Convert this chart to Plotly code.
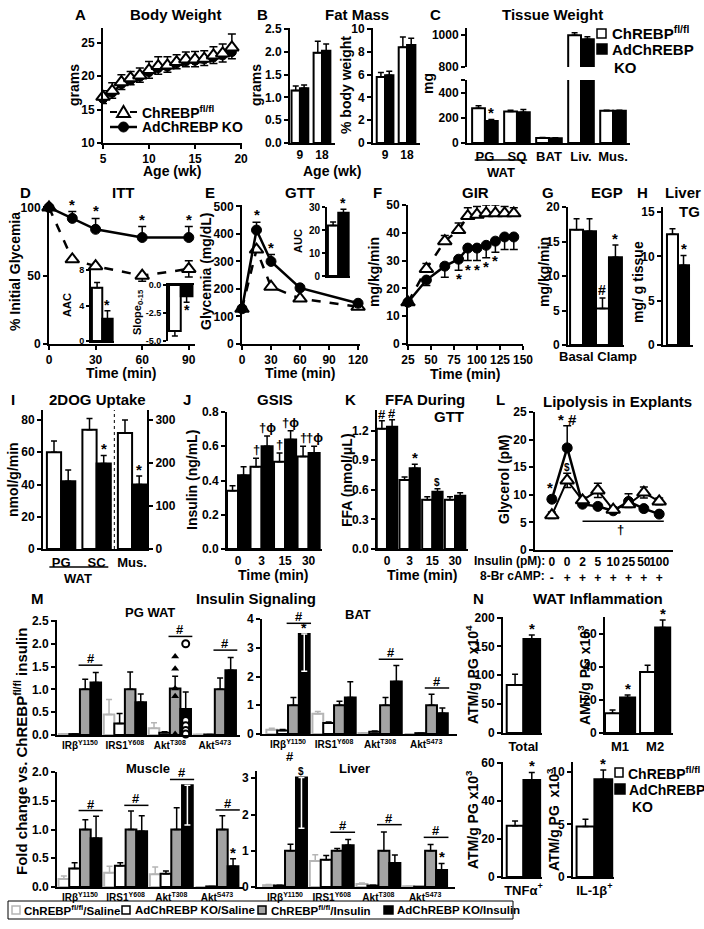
import plotly.graph_objects as go

W, H = 704, 929
FONT = "Liberation Sans, Arial, Helvetica, sans-serif"

# ======================= DATA =======================
# A  Body weight
bw_weeks = [5, 6, 7, 8, 9, 10, 11, 12, 13, 14, 15, 16, 17, 18, 19]
bw_wt = [16.9, 17.8, 19.1, 19.7, 20.1, 20.9, 21.5, 21.6, 22.1, 22.5, 22.5, 22.6, 23.1, 23.4, 24.3]
bw_wt_err = [0.9, 1.2, 1.1, 1.0, 1.1, 1.3, 1.4, 1.3, 1.1, 1.1, 1.2, 1.2, 1.3, 1.4, 2.0]
bw_ko = [16.6, 17.5, 18.8, 19.4, 19.9, 20.6, 21.2, 21.4, 21.9, 22.2, 22.3, 22.5, 22.8, 23.1, 23.6]
bw_ko_err = [0.7, 0.8, 0.8, 0.7, 0.8, 0.9, 0.9, 0.8, 0.8, 0.8, 0.9, 0.9, 0.9, 1.0, 1.0]

# B  Fat mass
fat_ages = ["9", "18"]
fat_g_wt = [1.15, 1.98]
fat_g_wt_err = [0.10, 0.25]
fat_g_ko = [1.20, 2.02]
fat_g_ko_err = [0.07, 0.15]
fat_pct_wt = [5.8, 8.4]
fat_pct_wt_err = [0.4, 0.9]
fat_pct_ko = [5.95, 8.6]
fat_pct_ko_err = [0.35, 0.6]

# C  Tissue weight
tissues = ["PG", "SQ", "BAT", "Liv.", "Mus."]
tw_wt = [275, 250, 40, 1000, 255]
tw_wt_err = [20, 10, 3, 15, 5]
tw_ko = [175, 245, 38, 975, 255]
tw_ko_err = [12, 20, 3, 15, 5]

# D  ITT
itt_t = [0, 15, 30, 60, 90]
itt_wt = [100, 62, 57, 50, 55]
itt_wt_up = [0, 0, 0, 0, 6]
itt_wt_dn = [0, 0, 0, 4, 6]
itt_ko = [100, 92, 84, 78, 78]
itt_ko_up = [0, 5, 8, 8, 8]
aac_wt, aac_wt_err = 6.0, 0.6
aac_ko, aac_ko_err = 2.5, 0.9
slope_wt, slope_wt_err = -4.1, 0.45
slope_ko, slope_ko_err = -1.0, 0.55

# E  GTT
gtt_t = [0, 15, 30, 60, 120]
gtt_wt = [128, 343, 208, 165, 135]
gtt_ko = [128, 414, 300, 204, 148]
gtt_ko_up = [0, 28, 25, 0, 0]
auc_wt, auc_wt_err = 22.0, 1.5
auc_ko, auc_ko_err = 27.5, 1.5

# F  GIR
gir_t = [25, 45, 65, 80, 90, 100, 110, 120, 130, 140]
gir_wt = [15, 27, 37, 41, 46, 46.5, 47, 47, 47, 47]
gir_wt_up = [0, 2, 2, 2.5, 3, 3, 3, 3, 2.5, 2]
gir_ko = [15, 23, 28, 30.5, 34.5, 34.5, 35.5, 37, 38.5, 38.5]
gir_ko_dn = [0, 2, 4, 4, 4.5, 4.5, 4.5, 4, 4.5, 4.5]

# G  EGP
egp_cond = ["Basal", "Clamp"]
egp_wt = [16.7, 5.3]
egp_wt_err = [1.6, 1.5]
egp_ko = [16.5, 12.7]
egp_ko_err = [1.8, 1.8]

# H  Liver TG
ltg_wt, ltg_wt_err = 12.5, 0.6
ltg_ko, ltg_ko_err = 9.0, 1.1

# I  2DOG uptake
dog_cats = ["PG", "SC", "Mus."]
dog_wat_wt = [60, 74]
dog_wat_wt_err = [7, 7]
dog_wat_ko = [42, 53]
dog_wat_ko_err = [7, 5]
dog_mus_wt, dog_mus_wt_err = 270, 30
dog_mus_ko, dog_mus_ko_err = 150, 20

# J  GSIS
gsis_t = ["0", "3", "15", "30"]
gsis_wt = [0.34, 0.48, 0.51, 0.54]
gsis_wt_err = [0.03, 0.05, 0.05, 0.06]
gsis_ko = [0.43, 0.60, 0.64, 0.56]
gsis_ko_err = [0.05, 0.06, 0.05, 0.04]

# K  FFA during GTT
ffa_t = ["0", "3", "15", "30"]
ffa_wt = [1.22, 0.70, 0.50, 0.50]
ffa_wt_err = [0.08, 0.03, 0.03, 0.03]
ffa_ko = [1.24, 0.82, 0.58, 0.54]
ffa_ko_err = [0.07, 0.04, 0.03, 0.03]

# L  Lipolysis in explants
lip_insulin = ["0", "0", "2", "5", "10", "25", "50", "100"]
lip_camp = ["-", "+", "+", "+", "+", "+", "+", "+"]
lip_ko = [9.2, 18.5, 8.3, 7.9, 7.1, 8.8, 7.5, 6.5]
lip_ko_err = [0.6, 4.0, 0.5, 0.5, 0.4, 1.4, 0.4, 0.4]
lip_wt = [6.3, 12.6, 9.0, 10.8, 7.3, 8.3, 10.4, 8.8]
lip_wt_err = [0.6, 1.3, 0.6, 1.3, 0.5, 0.6, 1.0, 0.6]

# M  Insulin signaling
sig_labels = ["IRβ<sup>Y1150</sup>", "IRS1<sup>Y608</sup>", "Akt<sup>T308</sup>", "Akt<sup>S473</sup>"]
pg_sal_wt = [0.02, 0.45, 0.15, 0.01]
pg_sal_wt_err = [0.01, 0.33, 0.12, 0.0]
pg_sal_ko = [0.02, 0.25, 0.05, 0.01]
pg_sal_ko_err = [0.0, 0.22, 0.02, 0.0]
pg_ins_wt = [1.0, 1.0, 1.02, 1.0]
pg_ins_wt_err = [0.22, 0.38, 0.27, 0.25]
pg_ins_ko = [1.15, 0.72, 0.57, 1.42]
pg_ins_ko_up = [0.22, 0.18, 0.37, 0.28]
pg_ins_ko_dn = [0, 0, 0, 0]
pg_akt_pts_wt = [1.72, 1.45, 1.02, 0.85, 0.02]
pg_akt_pts_ko = [2.0, 0.32, 0.2, 0.1, 0.02]

bat_sal_wt = [0.15, 0.70, 0.03, 0.0]
bat_sal_wt_err = [0.05, 0.08, 0.01, 0.0]
bat_sal_ko = [0.12, 0.38, 0.08, 0.03]
bat_sal_ko_err = [0.04, 0.04, 0.02, 0.0]
bat_ins_wt = [1.0, 1.0, 1.0, 1.0]
bat_ins_wt_err = [0.27, 0.14, 0.27, 0.38]
bat_ins_ko = [3.48, 1.27, 1.83, 0.72]
bat_ins_ko_up = [0, 0.55, 0.55, 0.18]
bat_ins_ko_dn = [1.30, 0, 0, 0]

mus_sal_wt = [0.14, 0.25, 0.22, 0.0]
mus_sal_wt_err = [0.05, 0.11, 0.13, 0.0]
mus_sal_ko = [0.32, 0.37, 0.23, 0.01]
mus_sal_ko_err = [0.10, 0.05, 0.05, 0.0]
mus_ins_wt = [1.0, 1.0, 1.0, 1.0]
mus_ins_wt_err = [0.17, 0.32, 0.38, 0.24]
mus_ins_ko = [0.85, 0.97, 1.77, 0.36]
mus_ins_ko_up = [0.38, 0.27, 0, 0.13]
mus_ins_ko_dn = [0, 0, 0.69, 0]

liv_sal_wt = [0.05, 0.72, 0.08, 0.02]
liv_sal_wt_err = [0.02, 0.17, 0.03, 0.0]
liv_sal_ko = [0.04, 0.75, 0.04, 0.01]
liv_sal_ko_err = [0.01, 0.12, 0.01, 0.0]
liv_ins_wt = [1.0, 1.0, 1.0, 1.0]
liv_ins_wt_err = [0.18, 0.06, 0.52, 0.17]
liv_ins_ko = [3.02, 1.15, 0.66, 0.47]
liv_ins_ko_up = [0, 0.16, 0.22, 0.18]
liv_ins_ko_dn = [1.40, 0, 0, 0]

# N  WAT inflammation
atm_total_wt, atm_total_wt_err = 83, 19
atm_total_ko, atm_total_ko_err = 163, 7
m_cats = ["M1", "M2"]
m_wt = [12, 37]
m_wt_err = [2, 4]
m_ko = [21.5, 64]
m_ko_err = [1.5, 4.5]
tnf_wt, tnf_wt_err = 27, 2.5
tnf_ko, tnf_ko_err = 51, 4
il1_wt, il1_wt_err = 4.8, 0.7
il1_ko, il1_ko_err = 9.3, 0.9

WT_NAME = "ChREBP<sup>fl/fl</sup>"
KO_NAME = "AdChREBP KO"
M_LEGEND = [WT_NAME + "/Saline", KO_NAME + "/Saline", WT_NAME + "/Insulin", KO_NAME + "/Insulin"]

# ======================= HELPERS =======================
fig = go.Figure()
lay = {}
annotations = []
shapes = []
_n = [0]


def tf(size):
    return dict(family=FONT, size=size, color="black", weight="bold")


AXBASE = dict(showline=True, linecolor="black", linewidth=2, ticks="outside", ticklen=4,
              tickwidth=2, tickcolor="black", showgrid=False, zeroline=False,
              tickfont=tf(12), fixedrange=True, tickangle=0, automargin=False)


def px(x):
    return x / W


def py(y):
    return 1 - y / H


def axes(x0, x1, ytop, ybot, xr, yr, xo=None, yo=None):
    _n[0] += 1
    s = "" if _n[0] == 1 else str(_n[0])
    xa = dict(AXBASE)
    xa.update(domain=[px(x0), px(x1)], range=xr, anchor="y" + s)
    ya = dict(AXBASE)
    ya.update(domain=[py(ybot), py(ytop)], range=yr, anchor="x" + s)
    if xo:
        xa.update(xo)
    if yo:
        ya.update(yo)
    lay["xaxis" + s] = xa
    lay["yaxis" + s] = ya
    return "x" + s, "y" + s


def cat(labels, size=12):
    return dict(ticks="", tickvals=list(range(len(labels))), ticktext=labels, tickfont=tf(size))


def errs(up, down, n, color="black", width=3):
    up = list(up) if up is not None else [0] * n
    down = list(down) if down is not None else [0] * n
    return dict(type="data", symmetric=False, array=up, arrayminus=down, color=color,
                thickness=1.5, width=width)


def bars(xa, ya, vals, up=None, down=None, off=0.0, w=0.4, fill="white", edge="black",
         errc="black", lw=2, idx=None):
    n = len(vals)
    idx = list(range(n)) if idx is None else idx
    fig.add_trace(go.Bar(x=idx, y=vals, width=w, offset=off, xaxis=xa, yaxis=ya,
                         marker=dict(color=fill, line=dict(color=edge, width=lw)),
                         error_y=errs(up, down, n, errc), showlegend=False,
                         hoverinfo="skip"))


def series(xa, ya, x, y, up=None, down=None, kind="wt", dash="solid", size=None, lw=2.5):
    n = len(y)
    if kind == "wt":
        mk = dict(symbol="triangle-up", size=size or 12, color="white",
                  line=dict(color="black", width=2))
    else:
        mk = dict(symbol="circle", size=size or 10, color="black",
                  line=dict(color="black", width=1))
    fig.add_trace(go.Scatter(x=x, y=y, mode="lines+markers", xaxis=xa, yaxis=ya,
                             line=dict(color="black", width=lw, dash=dash), marker=mk,
                             error_y=errs(up, down, n, width=4), cliponaxis=False,
                             showlegend=False, hoverinfo="skip"))


def txt(x, y, s, size=14, angle=0, xanchor="center", yanchor="middle"):
    annotations.append(dict(x=px(x), y=py(y), xref="paper", yref="paper", text=s,
                            showarrow=False, textangle=angle, xanchor=xanchor,
                            yanchor=yanchor, font=tf(size)))


def mark(xa, ya, x, y, s, size=15, yanchor="bottom", xshift=0, yshift=0):
    annotations.append(dict(x=x, y=y, xref=xa, yref=ya, text=s, showarrow=False,
                            xanchor="center", yanchor=yanchor, xshift=xshift,
                            yshift=yshift, font=tf(size)))


def hline(xa, ya, xa0, xa1, yv, width=1.5, dash="solid"):
    shapes.append(dict(type="line", xref=xa, yref=ya, x0=xa0, x1=xa1, y0=yv, y1=yv,
                       line=dict(color="black", width=width, dash=dash)))


def pline(x0, y0, x1, y1, width=1.5, dash="solid"):
    shapes.append(dict(type="line", xref="paper", yref="paper", x0=px(x0), y0=py(y0),
                       x1=px(x1), y1=py(y1), line=dict(color="black", width=width, dash=dash)))


def swatch(x0, y0, x1, y1, fill, edge="black", lw=1.5):
    shapes.append(dict(type="rect", xref="paper", yref="paper", x0=px(x0), x1=px(x1),
                       y0=py(y1), y1=py(y0), fillcolor=fill, line=dict(color=edge, width=lw)))


# ======================= A: Body weight =======================
xa, ya = axes(103, 242, 28, 143, [5, 20.1], [10, 27.2],
              xo=dict(tickvals=[5, 10, 15, 20]), yo=dict(tickvals=[10, 15, 20, 25]))
series(xa, ya, bw_weeks, bw_ko, down=bw_ko_err, kind="ko", size=9)
series(xa, ya, bw_weeks, bw_wt, up=bw_wt_err, kind="wt", dash="dash", size=12)
txt(80, 15, "A", 15)
txt(175, 15, "Body Weight", 15)
txt(74, 85, "grams", 14, -90)
txt(172, 171, "Age (wk)", 14)
# legend (drawn)
pline(110, 112, 117, 112, 2)
pline(130, 112, 137, 112, 2)
shapes.append(dict(type="path", xref="paper", yref="paper",
                   path="M %f,%f L %f,%f L %f,%f Z" % (px(117), py(117), px(130), py(117),
                                                       px(123.5), py(106)),
                   fillcolor="white", line=dict(color="black", width=2)))
pline(110, 127, 137, 127, 2.5)
shapes.append(dict(type="circle", xref="paper", yref="paper", x0=px(118.5), x1=px(128.5),
                   y0=py(132), y1=py(122), fillcolor="black", line=dict(color="black", width=1)))
txt(140, 112, WT_NAME, 14, xanchor="left")
txt(140, 127, KO_NAME, 14, xanchor="left")

# ======================= B: Fat mass =======================
w = 0.38
xb, yb = axes(290, 335, 28, 143, [-0.45, 1.59], [0, 2.52], xo=cat(fat_ages),
              yo=dict(tickvals=[0, 0.5, 1, 1.5, 2, 2.5], tickformat=".1f"))
bars(xb, yb, fat_g_wt, fat_g_wt_err, off=-w, w=w)
bars(xb, yb, fat_g_ko, fat_g_ko_err, off=0, w=w, fill="black")
xb2, yb2 = axes(373, 420, 28, 143, [-0.55, 1.59], [0, 10.1], xo=cat(fat_ages),
                yo=dict(tickvals=[0, 2, 4, 6, 8, 10]))
bars(xb2, yb2, fat_pct_wt, fat_pct_wt_err, off=-w, w=w)
bars(xb2, yb2, fat_pct_ko, fat_pct_ko_err, off=0, w=w, fill="black")
txt(262, 15, "B", 15)
txt(357, 15, "Fat Mass", 15)
txt(256, 85, "grams", 14, -90)
txt(346, 85, "% body weight", 14, -90)
txt(332, 171, "Age (wk)", 14)

# ======================= C: Tissue weight (broken axis) =======================
w = 0.4
xr_c = [-0.56, 4.53]
xc, yc = axes(467, 630, 80, 143, xr_c, [0, 500], xo=cat(tissues, 13),
              yo=dict(tickvals=[0, 200, 400, 500], ticktext=["0", "200", "400", ""]))
bars(xc, yc, tw_wt, tw_wt_err, off=-w, w=w)
bars(xc, yc, tw_ko, tw_ko_err, off=0, w=w, fill="black")
xc2, yc2 = axes(467, 630, 28, 67, xr_c, [800, 1045],
                xo=dict(visible=False), yo=dict(tickvals=[800, 1000]))
bars(xc2, yc2, tw_wt, tw_wt_err, off=-w, w=w)
bars(xc2, yc2, tw_ko, tw_ko_err, off=0, w=w, fill="black")
mark(xc, yc, 0 + w / 2, tw_ko[0] + tw_ko_err[0], "*", yshift=-4)
shapes.append(dict(type="line", xref=xc, yref="paper", x0=-0.32, x1=1.32, y0=py(160),
                   y1=py(160), line=dict(color="black", width=1.5)))
txt(501, 172, "WAT", 13)
txt(435, 15, "C", 15)
txt(552, 15, "Tissue Weight", 15)
txt(428, 84, "mg", 14, -90)
swatch(597, 29, 606, 38, "white")
swatch(597, 44, 607, 54, "black")
txt(610, 33, WT_NAME, 15, xanchor="left")
txt(610, 50, "AdChREBP", 15, xanchor="left")
txt(612, 68, "KO", 15, xanchor="left")

# ======================= D: ITT =======================
xd, yd = axes(49, 195, 202, 344, [0, 94], [0, 104],
              xo=dict(tickvals=[0, 30, 60, 90]), yo=dict(tickvals=[0, 50, 100]))
series(xd, yd, itt_t, itt_wt, up=itt_wt_up, down=itt_wt_dn, kind="wt", dash="dash")
series(xd, yd, itt_t, itt_ko, up=itt_ko_up, kind="ko")
for t, v, e in zip(itt_t[1:], itt_ko[1:], itt_ko_up[1:]):
    mark(xd, yd, t, v + e, "*", yshift=-3)
w = 0.46
xi1, yi1 = axes(91, 114, 270, 341, [-0.5, 0.52], [0, 8],
                xo=dict(showticklabels=False, ticks=""),
                yo=dict(tickvals=[0, 4, 8], tickfont=tf(9), ticklen=3))
bars(xi1, yi1, [aac_wt], [aac_wt_err], off=-w, w=w, idx=[0])
bars(xi1, yi1, [aac_ko], [aac_ko_err], off=0, w=w, fill="black", idx=[0])
mark(xi1, yi1, w / 2, aac_ko + aac_ko_err, "*", 14, yshift=-4)
txt(67, 305, "AAC", 11, -90)
xi2, yi2 = axes(168, 194, 285, 341, [-0.5, 0.52], [-5, 0],
                xo=dict(showticklabels=False, ticks="", side="top"),
                yo=dict(tickvals=[0, -2.5, -5], ticktext=["0.0", "-2.5", "-5.0"],
                        tickfont=tf(9), ticklen=3))
bars(xi2, yi2, [slope_wt], down=[slope_wt_err], off=-w, w=w, idx=[0])
bars(xi2, yi2, [slope_ko], down=[slope_ko_err], off=0, w=w, fill="black", idx=[0])
mark(xi2, yi2, w / 2, slope_ko - slope_ko_err, "*", 14, yanchor="top", yshift=2)
txt(138, 312, "Slope<sub>0-15</sub>", 11, -90)
txt(25, 192, "D", 15)
txt(123, 192, "ITT", 15)
txt(15, 272, "% Initial Glycemia", 14, -90)
txt(121, 373, "Time (min)", 14)

# ======================= E: GTT =======================
xe, ye = axes(242, 360, 205, 344, [0, 122], [0, 505],
              xo=dict(tickvals=[0, 30, 60, 90, 120]),
              yo=dict(tickvals=[0, 100, 200, 300, 400, 500]))
series(xe, ye, gtt_t, gtt_wt, kind="wt", dash="dash")
series(xe, ye, gtt_t, gtt_ko, up=gtt_ko_up, kind="ko")
for i in (1, 2):
    mark(xe, ye, gtt_t[i], gtt_ko[i] + gtt_ko_up[i], "*", yshift=-3)
xe2, ye2 = axes(327, 350, 207, 276, [-0.5, 0.52], [0, 30],
                xo=dict(showticklabels=False, ticks=""),
                yo=dict(tickvals=[0, 10, 20, 30], tickfont=tf(10), ticklen=3))
bars(xe2, ye2, [auc_wt], [auc_wt_err], off=-w, w=w, idx=[0])
bars(xe2, ye2, [auc_ko], [auc_ko_err], off=0, w=w, fill="black", idx=[0])
mark(xe2, ye2, w / 2, auc_ko + auc_ko_err, "*", 14, yshift=-4)
txt(298, 241, "AUC", 11, -90)
txt(210, 192, "E", 15)
txt(300, 192, "GTT", 15)
txt(206, 272, "Glycemia (mg/dL)", 14, -90)
txt(300, 373, "Time (min)", 14)

# ======================= F: GIR =======================
xf, yf = axes(408, 523, 205, 344, [25, 150], [0, 50],
              xo=dict(tickvals=[25, 50, 75, 100, 125, 150]),
              yo=dict(tickvals=[0, 10, 20, 30, 40, 50]))
series(xf, yf, gir_t, gir_wt, up=gir_wt_up, kind="wt", dash="dash")
series(xf, yf, gir_t, gir_ko, down=gir_ko_dn, kind="ko")
for i in range(3, 8):
    mark(xf, yf, gir_t[i], gir_ko[i] - gir_ko_dn[i], "*", yanchor="top", yshift=2)
txt(377, 192, "F", 15)
txt(475, 192, "GIR", 15)
txt(374, 272, "mg/kg/min", 14, -90)
txt(465, 374, "Time (min)", 14)

# ======================= G: EGP =======================
w = 0.5
xg, yg = axes(568, 624, 207, 345, [-0.58, 1.58], [0, 20],
              xo=dict(showticklabels=False, ticks=""),
              yo=dict(tickvals=[0, 5, 10, 15, 20]))
bars(xg, yg, egp_wt, egp_wt_err, off=-w, w=w)
bars(xg, yg, egp_ko, egp_ko_err, off=0, w=w, fill="black")
mark(xg, yg, 1 - w / 2, egp_wt[1] + egp_wt_err[1], "#", 14, yshift=-2)
mark(xg, yg, 1 + w / 2, egp_ko[1] + egp_ko_err[1], "*", yshift=-4)
txt(598, 356, " ".join(egp_cond), 13)
txt(548, 192, "G", 15)
txt(607, 192, "EGP", 15)
txt(544, 272, "mg/kg/min", 14, -90)

# ======================= H: Liver TG =======================
xh, yh = axes(663, 693, 207, 345, [-0.68, 0.68], [0, 15.56],
              xo=dict(showticklabels=False, ticks=""),
              yo=dict(tickvals=[0, 5, 10, 15]))
bars(xh, yh, [ltg_wt], [ltg_wt_err], off=-w, w=w, idx=[0])
bars(xh, yh, [ltg_ko], [ltg_ko_err], off=0, w=w, fill="black", idx=[0])
mark(xh, yh, w / 2, ltg_ko + ltg_ko_err, "*", yshift=-4)
txt(642, 192, "H", 15)
txt(703, 192, "Liver", 15, xanchor="right")
txt(689, 212, "TG", 15)
txt(638, 282, "mg/ g tissue", 14, -90)

# ======================= I: 2DOG uptake =======================
w = 0.4
xI, yI = axes(43, 147, 410, 549, [-0.51, 2.42], [0, 86.2], xo=cat(dog_cats, 13),
              yo=dict(tickvals=[0, 20, 40, 60, 80]))
yI2 = "y" + str(_n[0] + 100)
ax2 = dict(AXBASE)
ax2.update(overlaying=yI, side="right", anchor=xI, range=[0, 323.2],
           tickvals=[0, 100, 200, 300])
lay["yaxis" + str(_n[0] + 100)] = ax2
bars(xI, yI, dog_wat_wt, dog_wat_wt_err, off=-w, w=w)
bars(xI, yI, dog_wat_ko, dog_wat_ko_err, off=0, w=w, fill="black")
bars(xI, yI2, [dog_mus_wt], [dog_mus_wt_err], off=-w, w=w, idx=[2])
bars(xI, yI2, [dog_mus_ko], [dog_mus_ko_err], off=0, w=w, fill="black", idx=[2])
mark(xI, yI, 1 + w / 2, dog_wat_ko[1] + dog_wat_ko_err[1], "*", yshift=-4)
mark(xI, yI2, 2 + w / 2, dog_mus_ko + dog_mus_ko_err, "*", yshift=-4)
shapes.append(dict(type="line", xref=xI, yref="paper", x0=1.5, x1=1.5, y0=py(549),
                   y1=py(410), line=dict(color="black", width=1, dash="dot")))
shapes.append(dict(type="line", xref=xI, yref="paper", x0=-0.33, x1=1.33, y0=py(567),
                   y1=py(567), line=dict(color="black", width=1.5)))
txt(78, 578, "WAT", 13)
txt(13, 400, "I", 15)
txt(97, 400, "2DOG Uptake", 15)
txt(13, 480, "nmol/g/min", 14, -90)

# ======================= J: GSIS =======================
w = 0.47
xj, yj = axes(227, 322, 412, 549, [-0.47, 3.57], [0, 0.8], xo=cat(gsis_t),
              yo=dict(tickvals=[0, 0.2, 0.4, 0.6, 0.8], tickformat=".1f"))
bars(xj, yj, gsis_wt, gsis_wt_err, off=-w, w=w)
bars(xj, yj, gsis_ko, gsis_ko_err, off=0, w=w, fill="black")
for i in (1, 2, 3):
    mark(xj, yj, i - w / 2, gsis_wt[i] + gsis_wt_err[i], "†", 13, yshift=-1)
    mark(xj, yj, i + w / 2, gsis_ko[i] + gsis_ko_err[i], "†ϕ", 13, yshift=-1)
txt(187, 400, "J", 15)
txt(275, 400, "GSIS", 15)
txt(192, 480, "Insulin (ng/mL)", 14, -90)
txt(273, 575, "Time (min)", 14)

# ======================= K: FFA during GTT =======================
w = 0.45
xk, yk = axes(377, 468, 410, 549, [-0.44, 3.57], [0, 1.41], xo=cat(ffa_t),
              yo=dict(tickvals=[0, 0.3, 0.6, 0.9, 1.2], tickformat=".1f"))
bars(xk, yk, ffa_wt, ffa_wt_err, off=-w, w=w)
bars(xk, yk, ffa_ko, ffa_ko_err, off=0, w=w, fill="black")
mark(xk, yk, -w / 2, ffa_wt[0] + ffa_wt_err[0], "#", 13, yshift=-3)
mark(xk, yk, w / 2, ffa_ko[0] + ffa_ko_err[0], "#", 13, yshift=-3)
mark(xk, yk, 1 + w / 2, ffa_ko[1] + ffa_ko_err[1], "*", yshift=-4)
mark(xk, yk, 2 + w / 2, ffa_ko[2] + ffa_ko_err[2], "$", 10, yshift=-1)
txt(350, 400, "K", 15)
txt(425, 400, "FFA During", 15)
txt(466, 416, "GTT", 15, xanchor="right")
txt(347, 480, "FFA (nmol/μL)", 14, -90)
txt(422, 575, "Time (min)", 14)

# ======================= L: Lipolysis =======================
lip_idx = list(range(len(lip_insulin)))
xl, yl = axes(535, 673, 412, 550, [-1.1, 7.9], [0, 25],
              xo=dict(ticks="", tickvals=lip_idx,
                      ticktext=[a + "<br>" + b for a, b in zip(lip_insulin, lip_camp)]),
              yo=dict(tickvals=[0, 5, 10, 15, 20, 25]))
series(xl, yl, lip_idx, lip_ko, up=lip_ko_err, kind="ko", size=10, lw=2.5)
series(xl, yl, lip_idx, lip_wt, up=lip_wt_err, down=lip_wt_err, kind="wt", size=12, lw=2)
mark(xl, yl, 0, lip_ko[0] + lip_ko_err[0], "*", xshift=-2, yshift=-2)
mark(xl, yl, 1, lip_ko[1] + lip_ko_err[1], "* #", 15, yshift=-4)
mark(xl, yl, 1, lip_wt[1] + lip_wt_err[1], "$", 10, yshift=-2)
hline(xl, yl, 2, 7.3, 5.2)
mark(xl, yl, 4.5, 5.2, "†", 13, yanchor="top", yshift=1)
txt(547, 561, "Insulin (pM):", 12, xanchor="right")
txt(547, 576, "8-Br cAMP:", 12, xanchor="right")
txt(500, 400, "L", 15)
txt(617, 402, "Lipolysis in Explants", 15)
txt(504, 480, "Glycerol (pM)", 14, -90)

# ======================= M: Insulin signaling =======================
w = 0.235
SAL_EDGE = "#b5b5b5"
INS_FILL = "#a3a3a3"


def msub(box, xr, yr, ytick, yfmt, sw, swe, sk, ske, iw, iwe, ik, iku, ikd, hashes, pad):
    xa_, ya_ = axes(*box, xr, yr, xo=cat(sig_labels, 10),
                    yo=dict(tickvals=ytick, tickformat=yfmt))
    bars(xa_, ya_, sw, swe, off=-2 * w, w=w, edge=SAL_EDGE, errc=SAL_EDGE)
    bars(xa_, ya_, sk, ske, off=-w, w=w)
    bars(xa_, ya_, iw, iwe, off=0, w=w, fill=INS_FILL)
    bars(xa_, ya_, ik, iku, off=w, w=w, fill="black")
    if any(v > 0 for v in ikd):
        gi = [i for i, v in enumerate(ikd) if v > 0]
        fig.add_trace(go.Scatter(x=[i + 1.5 * w for i in gi], y=[ik[i] for i in gi],
                                 mode="markers", marker=dict(size=1, opacity=0),
                                 error_y=errs([0] * len(gi), [ikd[i] for i in gi], len(gi),
                                              color="white", width=3),
                                 xaxis=xa_, yaxis=ya_, showlegend=False, hoverinfo="skip"))
    for g, extra in hashes:
        top = max(iw[g] + iwe[g], ik[g] + iku[g], extra)
        lvl = top + pad
        hline(xa_, ya_, g - 0.03, g + 2 * w + 0.03, lvl)
        mark(xa_, ya_, g + w, lvl, "#", 13, yshift=-3)
    return xa_, ya_


xm1, ym1 = msub((57, 240, 620, 735), [-0.51, 3.56], [0, 2.52], [0, 0.5, 1, 1.5, 2, 2.5],
                ".1f", pg_sal_wt, pg_sal_wt_err, pg_sal_ko, pg_sal_ko_err, pg_ins_wt,
                pg_ins_wt_err, pg_ins_ko, pg_ins_ko_up, pg_ins_ko_dn,
                [(0, 0), (2, max(pg_akt_pts_ko)), (3, 0)], 0.16)
fig.add_trace(go.Scatter(x=[2 + 0.5 * w] * len(pg_akt_pts_wt), y=pg_akt_pts_wt,
                         mode="markers", xaxis=xm1, yaxis=ym1, cliponaxis=False,
                         marker=dict(symbol="triangle-up", size=7, color="black"),
                         showlegend=False, hoverinfo="skip"))
fig.add_trace(go.Scatter(x=[2 + 1.5 * w] * len(pg_akt_pts_ko), y=pg_akt_pts_ko,
                         mode="markers", xaxis=xm1, yaxis=ym1, cliponaxis=False,
                         marker=dict(symbol="circle", size=7, color="white",
                                     line=dict(color="black", width=2)),
                         showlegend=False, hoverinfo="skip"))

xm2, ym2 = msub((262, 457, 619, 734), [-0.565, 3.67], [0, 4.0], [0, 1, 2, 3, 4], None,
                bat_sal_wt, bat_sal_wt_err, bat_sal_ko, bat_sal_ko_err, bat_ins_wt,
                bat_ins_wt_err, bat_ins_ko, bat_ins_ko_up, bat_ins_ko_dn,
                [(0, bat_ins_ko[0] + 0.15), (2, 0), (3, 0)], 0.22)
mark(xm2, ym2, 1.5 * w, bat_ins_ko[0], "*", 14, yshift=-4)

xm3, ym3 = msub((57, 243, 772, 887), [-0.503, 3.57], [0, 2.0], [0, 0.5, 1, 1.5, 2],
                ".1f", mus_sal_wt, mus_sal_wt_err, mus_sal_ko, mus_sal_ko_err, mus_ins_wt,
                mus_ins_wt_err, mus_ins_ko, mus_ins_ko_up, mus_ins_ko_dn,
                [(0, 0), (1, 0), (2, 0), (3, 0)], 0.1)
mark(xm3, ym3, 3 + 1.5 * w, mus_ins_ko[3] + mus_ins_ko_up[3], "*", 15, yshift=-4)

xm4, ym4 = msub((257, 455, 771, 887), [-0.6, 3.64], [0, 3.2], [0, 1, 2, 3], None,
                liv_sal_wt, liv_sal_wt_err, liv_sal_ko, liv_sal_ko_err, liv_ins_wt,
                liv_ins_wt_err, liv_ins_ko, liv_ins_ko_up, liv_ins_ko_dn,
                [(0, liv_ins_ko[0] + 0.1), (1, 0), (2, 0), (3, 0)], 0.2)
mark(xm4, ym4, 1.5 * w, liv_ins_ko[0], "$", 10, yshift=-1)
mark(xm4, ym4, 3 + 1.5 * w, liv_ins_ko[3] + liv_ins_ko_up[3], "*", 15, yshift=-4)

txt(290, 756, "#", 13)
txt(37, 598, "M", 15)
txt(256, 598, "Insulin Signaling", 15)
txt(150, 612, "PG WAT", 13)
txt(358, 614, "BAT", 13)
txt(148, 768, "Muscle", 13)
txt(354, 768, "Liver", 13)
txt(20, 752, "Fold change vs. ChREBP<sup>fl/fl</sup> insulin", 15, -90)
# legend box (drawn)
shapes.append(dict(type="rect", xref="paper", yref="paper", x0=px(8), x1=px(513),
                   y0=py(919), y1=py(901), line=dict(color="black", width=1),
                   fillcolor="rgba(0,0,0,0)"))
swatch(12, 906, 20, 914, "white", SAL_EDGE, 1.5)
swatch(122, 906, 130, 914, "white", "black", 1.5)
swatch(258, 906, 266, 914, INS_FILL, "black", 1.5)
swatch(384, 906, 393, 914, "black", "black", 1.5)
txt(22, 910, M_LEGEND[0], 11.5, xanchor="left")
txt(133, 910, M_LEGEND[1], 11.5, xanchor="left")
txt(269, 910, M_LEGEND[2], 11.5, xanchor="left")
txt(395, 910, M_LEGEND[3], 11.5, xanchor="left")

# ======================= N: WAT inflammation =======================
w = 0.45
xn1, yn1 = axes(503, 542, 617, 733, [-0.55, 0.5], [0, 201], xo=cat(["Total"], 13),
                yo=dict(tickvals=[0, 50, 100, 150, 200]))
bars(xn1, yn1, [atm_total_wt], [atm_total_wt_err], off=-w, w=w, idx=[0])
bars(xn1, yn1, [atm_total_ko], [atm_total_ko_err], off=0, w=w, fill="black", idx=[0])
mark(xn1, yn1, w / 2, atm_total_ko + atm_total_ko_err, "*", yshift=-4)

w2 = 0.43
xn2, yn2 = axes(605, 673, 617, 733, [-0.43, 1.51], [0, 70.3], xo=cat(m_cats, 13),
                yo=dict(tickvals=[0, 20, 40, 60]))
bars(xn2, yn2, m_wt, m_wt_err, off=-w2, w=w2)
bars(xn2, yn2, m_ko, m_ko_err, off=0, w=w2, fill="black")
for i in range(2):
    mark(xn2, yn2, i + w2 / 2, m_ko[i] + m_ko_err[i], "*", yshift=-4)

xn3, yn3 = axes(503, 542, 762, 877, [-0.55, 0.5], [0, 60.5], xo=cat(["TNFα<sup>+</sup>"], 13),
                yo=dict(tickvals=[0, 20, 40, 60]))
bars(xn3, yn3, [tnf_wt], [tnf_wt_err], off=-w, w=w, idx=[0])
bars(xn3, yn3, [tnf_ko], [tnf_ko_err], off=0, w=w, fill="black", idx=[0])
mark(xn3, yn3, w / 2, tnf_ko + tnf_ko_err, "*", yshift=-4)

w3 = 0.5
xn4, yn4 = axes(573, 614, 762, 877, [-0.6, 0.55], [0, 10.95],
                xo=cat(["IL-1β<sup>+</sup>"], 13), yo=dict(tickvals=[0, 5, 10]))
bars(xn4, yn4, [il1_wt], [il1_wt_err], off=-w3, w=w3, idx=[0])
bars(xn4, yn4, [il1_ko], [il1_ko_err], off=0, w=w3, fill="black", idx=[0])
mark(xn4, yn4, w3 / 2, il1_ko + il1_ko_err, "*", yshift=-4)

txt(478, 598, "N", 15)
txt(598, 598, "WAT Inflammation", 15)
txt(472, 675, "ATM/g PG x10<sup>4</sup>", 14, -90)
txt(584, 675, "AMT/g PG x10<sup>3</sup>", 14, -90)
txt(472, 820, "ATM/g PG x10<sup>3</sup>", 14, -90)
txt(553, 820, "ATM/g PG  x10<sup>3</sup>", 14, -90)
swatch(615, 768, 623, 777, "white")
swatch(615, 784, 625, 794, "black")
txt(626, 773, WT_NAME, 14, xanchor="left")
txt(627, 790, "AdChREBP", 14, xanchor="left")
txt(630, 807, "KO", 14, xanchor="left")

# ======================= LAYOUT =======================
lay.update(
    width=W, height=H, margin=dict(l=0, r=0, t=0, b=0, pad=0, autoexpand=False),
    paper_bgcolor="white", plot_bgcolor="rgba(0,0,0,0)",
    font=dict(family=FONT, size=12, color="black", weight="bold"),
    barmode="overlay", showlegend=False, hovermode=False,
    annotations=annotations, shapes=shapes,
)
fig.update_layout(**lay)
fig.write_html("out.html", config=dict(displayModeBar=False),
               post_script="document.body.style.margin='0';"
                           "document.body.style.overflow='hidden';")
